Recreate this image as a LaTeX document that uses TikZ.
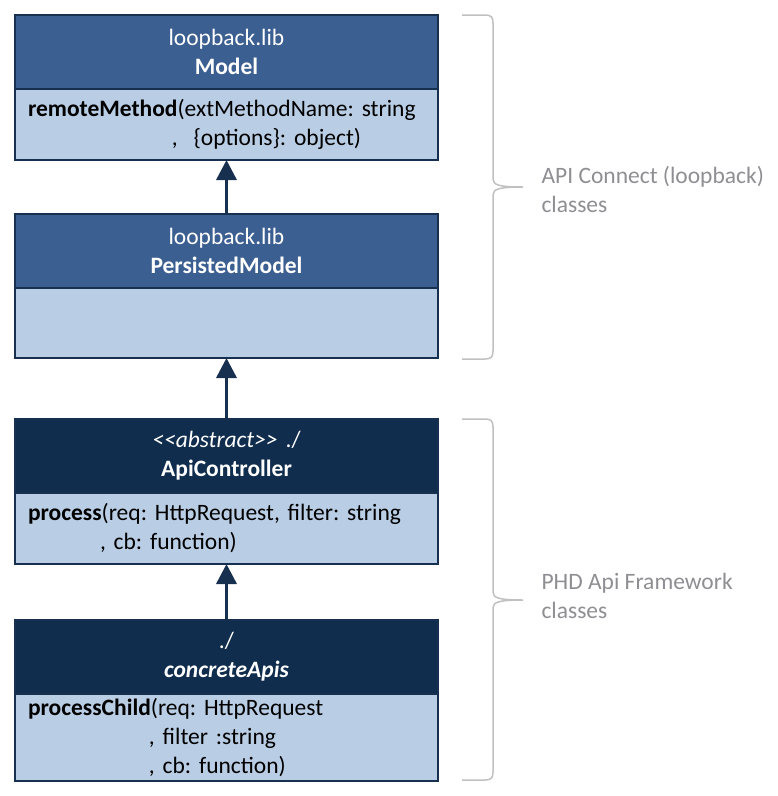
\documentclass[tikz,border=0pt]{standalone}
\usepackage{fontspec}
\setmainfont{Carlito}
\usetikzlibrary{positioning,arrows.meta}
\frenchspacing

\definecolor{libblue}{HTML}{3C5F91}
\definecolor{navy}{HTML}{102D4D}
\definecolor{paleblue}{HTML}{B9CDE4}
\definecolor{edge}{HTML}{17304F}
\definecolor{bracegray}{HTML}{C0C0C0}
\definecolor{notegray}{HTML}{8E8E93}

\newcommand{\umlfont}{\fontsize{23.5}{29}\selectfont}

\tikzset{
  classhead/.style={draw=edge, line width=1.5pt, text=white, anchor=north west,
    minimum width=423pt, minimum height=74pt, text width=397pt, align=center,
    inner sep=0pt, outer sep=0pt, font=\umlfont},
  classbody/.style={draw=edge, line width=1.5pt, fill=paleblue,
    minimum width=423pt, text width=397pt, align=left,
    inner xsep=13pt, inner ysep=0pt, outer sep=0pt, font=\umlfont},
  inherit/.style={draw=edge, line width=3.5pt, -{Triangle[width=20pt,length=20pt]}},
  note/.style={text=notegray, anchor=west, align=left, font=\umlfont},
  bracket/.style={draw=bracegray, line width=1.5pt}
}

\begin{document}
\begin{tikzpicture}[x=1pt,y=-1pt]
  \useasboundingbox (0,0) rectangle (778,796);

  % loopback classes
  \node[classhead, fill=libblue] (modelHead) at (15,15) {loopback.lib\\\textbf{Model}};
  \node[classbody, minimum height=71pt, below=0pt of modelHead] (modelBody)
    {\textbf{remoteMethod}(extMethodName: string\\\hspace*{144pt}, \ \{options\}: object)};

  \node[classhead, fill=libblue] (persistedHead) at (15,214) {loopback.lib\\\textbf{PersistedModel}};
  \node[classbody, minimum height=70pt, below=0pt of persistedHead] (persistedBody) {};

  % framework classes
  \node[classhead, fill=navy] (apiHead) at (15,419) {\textit{<{}<abstract>{}>} ./\\\textbf{ApiController}};
  \node[classbody, minimum height=71pt, below=0pt of apiHead] (apiBody)
    {\textbf{process}(req: HttpRequest, filter: string\\\hspace*{72pt}, cb: function)};

  \node[classhead, fill=navy] (concreteHead) at (15,620) {./\\\textbf{\textit{concreteApis}}};
  \node[classbody, minimum height=87pt, below=0pt of concreteHead] (concreteBody)
    {\textbf{processChild}(req: HttpRequest\\\hspace*{121pt}, filter :string\\\hspace*{121pt}, cb: function)};

  % inheritance
  \draw[inherit] (persistedHead.north) -- (modelBody.south);
  \draw[inherit] (apiHead.north) -- (persistedBody.south);
  \draw[inherit] (concreteHead.north) -- (apiBody.south);

  % braces
  \foreach \ya/\yt/\yb in {15/187/359, 419/600/780} {
    \draw[bracket] (462,\ya) -- (485,\ya) .. controls (491,\ya) and (493,\ya+2) .. (493,\ya+8)
      -- (493,\yt-8) .. controls (493,\yt-2) and (499,\yt) .. (523,\yt)
      .. controls (499,\yt) and (493,\yt+2) .. (493,\yt+8)
      -- (493,\yb-8) .. controls (493,\yb-2) and (491,\yb) .. (485,\yb) -- (462,\yb);
  }

  \node[note] (loopbackNote) at (538,189) {API Connect (loopback)\\classes};
  \node[note] (phdNote) at (538,596) {PHD Api Framework\\classes};
\end{tikzpicture}
\end{document}
